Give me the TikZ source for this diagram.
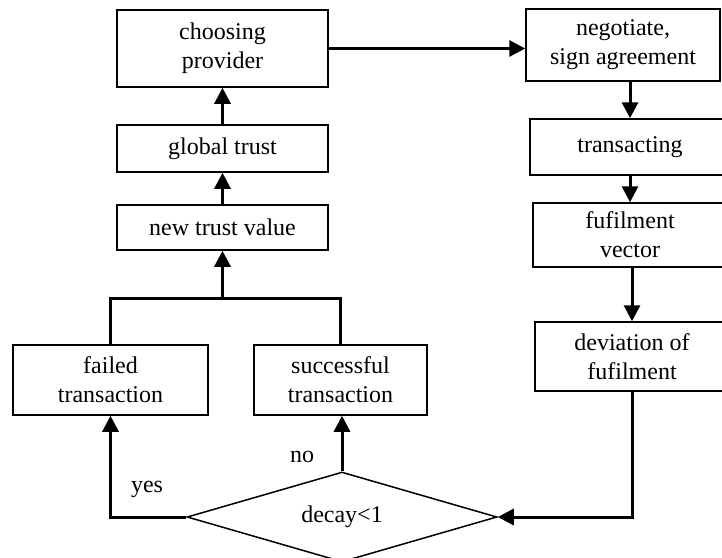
\documentclass[tikz,border=0pt]{standalone}
\usepackage{fontspec}
\setmainfont{Liberation Serif}
\usetikzlibrary{arrows.meta,shapes.geometric}
\tikzset{
  box/.style={draw,line width=0.75pt,rectangle,inner sep=0pt,align=center,font=\fontsize{12}{14.5}\selectfont},
  lbl/.style={inner sep=0pt,font=\fontsize{12}{14.5}\selectfont},
  flow/.style={line width=1.5pt},
  arr/.style={flow,-{Triangle[length=8pt,width=8pt]}}
}
\begin{document}
\begin{tikzpicture}[x=0.5pt,y=0.5pt,yscale=-1,xscale=1]
\useasboundingbox (0,0) rectangle (722,557);

%Shape: left column
\node[box,minimum width=105.5pt,minimum height=38.5pt] (choose) at (222.5,48.5) {choosing\\provider};
\node[box,minimum width=105.5pt,minimum height=23.5pt] (global) at (222.5,148.5) {global trust};
\node[box,minimum width=105.5pt,minimum height=22.5pt] (newtrust) at (222.5,227.5) {new trust value};
\node[box,minimum width=97.5pt,minimum height=35pt] (failed) at (110.5,380) {failed\\transaction};
\node[box,minimum width=86.5pt,minimum height=35pt] (success) at (340.5,380) {successful\\transaction};

%Shape: right column
\node[box,minimum width=97pt,minimum height=36pt] (negotiate) at (623,45) {negotiate,\\sign agreement};
\node[box,minimum width=100pt,minimum height=28pt] (transact) at (630,147) {transacting};
\node[box,minimum width=97pt,minimum height=32pt] (fulfil) at (630,235) {fufilment\\vector};
\node[box,minimum width=97pt,minimum height=34.5pt] (deviation) at (632,356.5) {deviation of\\fufilment};

%Shape: Diamond
\node[box,diamond,aspect=3.44,minimum width=155pt,minimum height=45pt] (decay) at (342,517) {decay<1};

%Labels
\node[lbl] (yes) at (147,489) {yes};
\node[lbl] (no) at (302,457) {no};

%Straight Lines
\coordinate (join) at (222.5,298);
\draw[arr] (choose.east) -- (choose.east -| negotiate.west);
\draw[arr] (global) -- (choose);
\draw[arr] (newtrust) -- (global);
\draw[flow] (failed.north) |- (join) -| (success.north);
\draw[arr] (join) -- (newtrust);
\draw[arr] (negotiate.south -| transact.north) -- (transact.north);
\draw[arr] (transact.south -| fulfil.north) -- (fulfil.north);
\draw[arr] (fulfil.south -| deviation.north) -- (deviation.north);
\draw[arr] (deviation.south) |- (decay.east);
\draw[arr] (decay.west) -| (failed.south);
\draw[arr] (decay.north) -- (decay.north |- success.south);

\end{tikzpicture}
\end{document}
